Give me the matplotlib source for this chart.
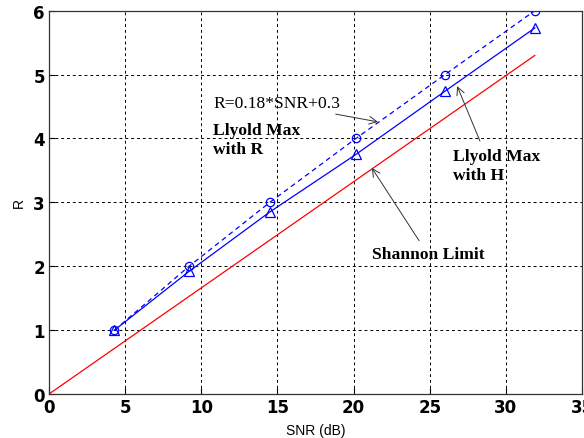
import matplotlib
matplotlib.use('Agg')
import matplotlib.pyplot as plt

# values
snr = [4.3, 9.2, 14.5, 20.15, 26.0, 31.9]
r_fit = [1.0, 2.0, 3.0, 4.0, 5.0, 6.0]       # R=0.18*SNR+0.3, circles, dashed
r_lloyd = [1.0, 1.92, 2.85, 3.75, 4.74, 5.73]  # Llyold Max with H, triangles
shannon_x = [0, 31.9]
shannon_y = [0, 5.3]

fig = plt.figure(figsize=(5.84, 4.39), dpi=100)
ax = fig.add_axes([0.0839, 0.1002, 0.9127, 0.8731])

ax.plot(shannon_x, shannon_y, color='red', lw=0.9)
ax.plot(snr, r_fit, color='blue', ls=(0, (4, 3)), lw=0.9,
        marker='o', ms=6, mfc='none', mec='blue', mew=0.9)
ax.plot(snr, r_lloyd, color='blue', lw=0.9,
        marker='^', ms=7.5, mfc='none', mec='blue', mew=0.9)

ax.set_xlim(0, 35)
ax.set_ylim(0, 6)
ax.set_xticks(range(0, 36, 5))
ax.set_yticks(range(0, 7))
ax.grid(True, color='black', ls=(0, (3, 3)), lw=0.7)
ax.tick_params(direction='in', length=4, width=0.8, pad=3)
for s in ax.spines.values():
    s.set_linewidth(0.9)
    s.set_color('#333333')

tickfont = dict(family=['Liberation Sans Narrow', 'DejaVu Sans'], weight='bold', size=12)
for lab in ax.get_xticklabels() + ax.get_yticklabels():
    lab.set_fontproperties(matplotlib.font_manager.FontProperties(**tickfont))

ax.set_xlabel('SNR (dB)', family='Liberation Sans', size=10, labelpad=5)
ax.set_ylabel('R', family='Liberation Sans', size=10, labelpad=5)

serif = ['Liberation Serif', 'DejaVu Serif']
arrow = dict(arrowstyle='->', color='#333333', lw=0.7, mutation_scale=14, shrinkA=0, shrinkB=0)

ax.annotate('R=0.18*SNR+0.3', xy=(21.6, 4.26), xytext=(10.8, 4.55),
            ha='left', va='center', family=serif, size=12.6,
            arrowprops=arrow)
ax.text(10.8, 3.98, 'Llyold Max\nwith R', ha='left', va='center',
        family=serif, weight='bold', size=12.6, linespacing=1.25)
ax.annotate('', xy=(26.8, 4.82), xytext=(28.3, 3.96), arrowprops=arrow)
ax.text(26.55, 3.57, 'Llyold Max\nwith H', ha='left', va='center',
        family=serif, weight='bold', size=12.6, linespacing=1.25)
ax.annotate('', xy=(21.2, 3.54), xytext=(24.3, 2.4), arrowprops=arrow)
ax.text(21.23, 2.19, 'Shannon Limit', ha='left', va='center',
        family=serif, weight='bold', size=12.6)

fig.savefig('out.png', dpi=100)
